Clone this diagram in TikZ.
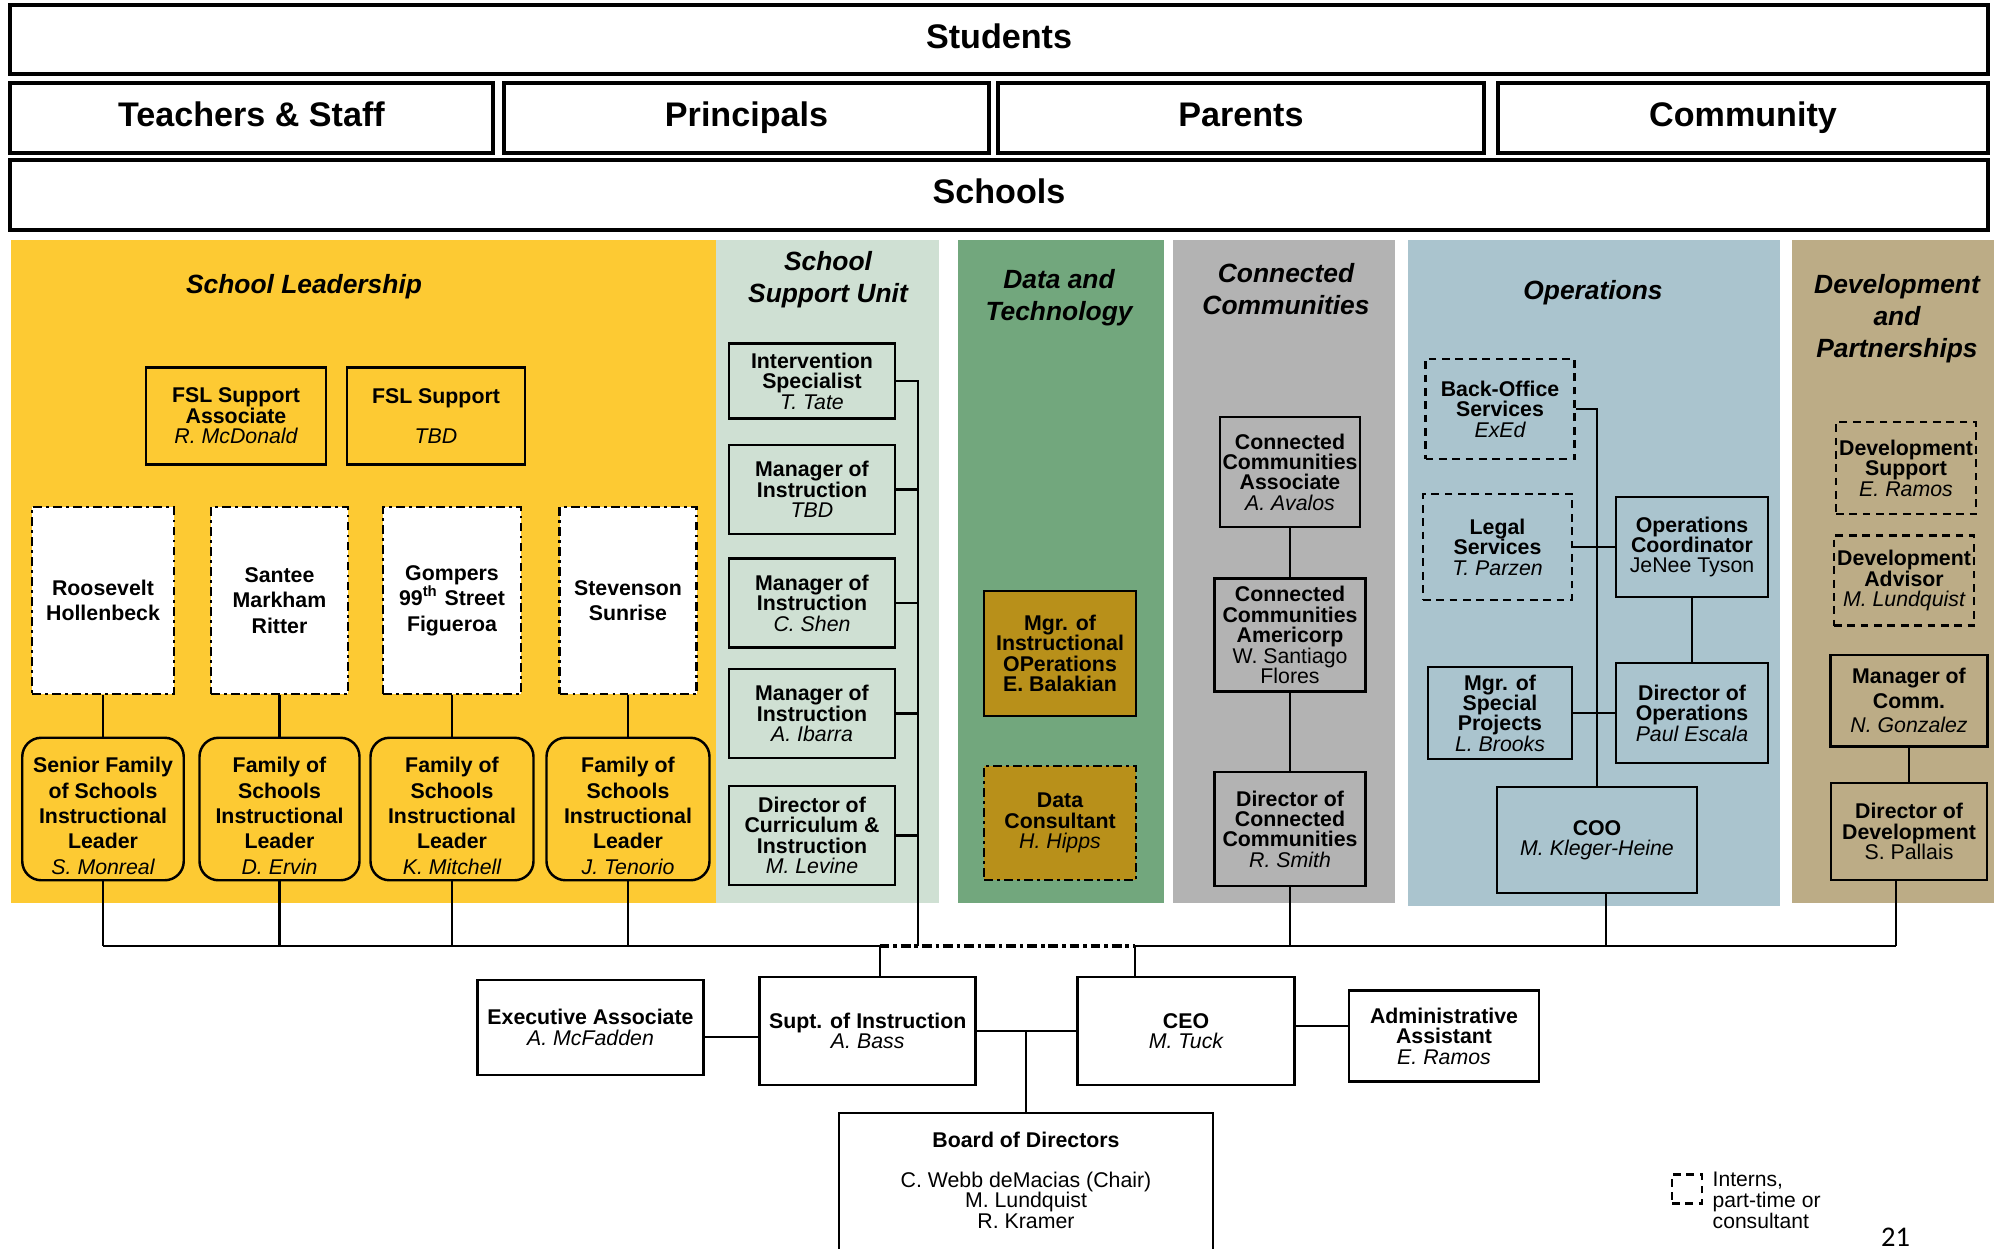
\documentclass[tikz,border=0pt]{standalone}
\usepackage{fontspec}
\setmainfont{Liberation Sans}
\newfontfamily\pagefont{Carlito}
\usepackage{xcolor}
\usepackage{tikz}

\definecolor{leadyellow}{RGB}{253,202,51}
\definecolor{supportgreen}{RGB}{207,224,211}
\definecolor{datagreen}{RGB}{114,167,125}
\definecolor{commgray}{RGB}{179,179,179}
\definecolor{opsblue}{RGB}{170,196,206}
\definecolor{devtan}{RGB}{188,172,134}
\definecolor{gold}{RGB}{184,144,26}

\newcommand{\orgfont}{\fontsize{6.06pt}{5.8pt}\selectfont}
\newcommand{\loosefont}{\fontsize{6.06pt}{7.2pt}\selectfont}
\newcommand{\headfont}{\fontsize{7.5pt}{9.05pt}\selectfont\bfseries\itshape}
\newcommand{\bandfont}{\fontsize{9.7pt}{11pt}\selectfont\bfseries}
\newcommand{\who}[1]{{\mdseries\itshape #1}}
\newcommand{\whoup}[1]{{\mdseries #1}}
\newcommand{\lift}{\rule{0pt}{8.3pt}}

\tikzset{
	sz/.style 2 args={minimum width=#1*0.01cm,minimum height=#2*0.01cm},
	unit/.style={draw,line width=0.7pt,align=center,inner sep=0pt,font=\orgfont\bfseries},
	temp/.style={dash pattern=on 2.2pt off 1.6pt},
	mixed/.style={dash pattern=on 2.5pt off 1.2pt on 0.8pt off 1.2pt},
	school/.style={unit,mixed,fill=white,font=\loosefont\bfseries},
	family/.style={unit,rounded corners=0.19cm,font=\loosefont\bfseries},
	band/.style={draw,line width=0.9pt,inner sep=0pt,text height=7pt,text depth=2pt,font=\bandfont},
	head/.style={align=center,inner sep=0pt,font=\headfont},
	link/.style={draw=black,line width=0.6pt}
}

\begin{document}
\begin{tikzpicture}[x=0.01cm,y=-0.01cm]
				\useasboundingbox (0,0) rectangle (1994,1248);
				\clip (0,0) rectangle (1994,1248);

				\node[band,sz={1978}{69}] (Stu) at (999,39.5) {Students};
				\node[band,sz={483}{70}] (TS) at (251.5,118) {Teachers \& Staff};
				\node[band,sz={485}{70}] (Pr) at (746.5,118) {Principals};
				\node[band,sz={486}{70}] (Pa) at (1241,118) {Parents};
				\node[band,sz={490}{70}] (Co) at (1743,118) {Community};
				\node[band,sz={1978}{70}] (Sch) at (999,195) {Schools};

				\fill[leadyellow] (11,240) rectangle (716,903);
				\fill[supportgreen] (716,240) rectangle (939,903);
				\fill[datagreen] (958,240) rectangle (1164,903);
				\fill[commgray] (1173,240) rectangle (1395,903);
				\fill[opsblue] (1408,240) rectangle (1780,906);
				\fill[devtan] (1792,240) rectangle (1994,903);

				\node[head] (hSL) at (304,287) {School Leadership};
				\node[head] (hSSU) at (828,280) {School\\Support Unit};
				\node[head] (hDT) at (1059,298) {Data and\\Technology};
				\node[head] (hCC) at (1286,289) {Connected\\Communities};
				\node[head] (hOps) at (1593,293) {Operations};
				\node[head] (hDev) at (1897,318.5) {Development\\and\\Partnerships};

				\node[unit,sz={180}{97}] (FA) at (236,416) {FSL Support\\Associate\\\who{R. McDonald}};
				\node[unit,sz={178}{97}] (FS) at (436,416) {FSL Support\\~\\\who{TBD}};

				\node[school,sz={142}{187}] (S1) at (103,600.5) {Roosevelt\\Hollenbeck};
				\node[school,sz={137}{187}] (S2) at (279.5,600.5) {Santee\\Markham\\Ritter};
				\node[school,sz={138}{187}] (S3) at (452,600.5) {Gompers\\99\textsuperscript{th} Street\\Figueroa};
				\node[school,sz={137}{187}] (S4) at (628,600.5) {Stevenson\\Sunrise};

				\node[family,sz={161.5}{142.5}] (F1) at (103,809) {\lift Senior Family\\of Schools\\Instructional\\Leader\\\who{S. Monreal}};
				\node[family,sz={160}{142.5}] (F2) at (279.5,809) {\lift Family of\\Schools\\Instructional\\Leader\\\who{D. Ervin}};
				\node[family,sz={163}{142.5}] (F3) at (452,809) {\lift Family of\\Schools\\Instructional\\Leader\\\who{K. Mitchell}};
				\node[family,sz={163}{142.5}] (F4) at (628,809) {\lift Family of\\Schools\\Instructional\\Leader\\\who{J. Tenorio}};

				\node[unit,sz={166}{75}] (U1) at (812,381) {Intervention\\Specialist\\\who{T. Tate}};
				\node[unit,sz={166}{89}] (U2) at (812,489.5) {Manager of\\Instruction\\\who{TBD}};
				\node[unit,sz={166}{89}] (U3) at (812,603) {Manager of\\Instruction\\\who{C. Shen}};
				\node[unit,sz={166}{89}] (U4) at (812,713.5) {Manager of\\Instruction\\\who{A. Ibarra}};
				\node[unit,sz={166}{99}] (U5) at (812,835.5) {Director of\\Curriculum \&\\Instruction\\\who{M. Levine}};

				\node[unit,fill=gold,sz={152}{125}] (D1) at (1060,653.5) {Mgr. of\\Instructional\\OPerations\\E. Balakian};
				\node[unit,mixed,fill=gold,sz={152}{114.5}] (D2) at (1060,823) {Data\\Consultant\\\who{H. Hipps}};

				\node[unit,sz={140}{109.5}] (C1) at (1290,472) {Connected\\Communities\\Associate\\\who{A. Avalos}};
				\node[unit,sz={151}{113}] (C2) at (1290,635) {Connected\\Communities\\Americorp\\\whoup{W. Santiago}\\\whoup{Flores}};
				\node[unit,sz={151}{114}] (C3) at (1290,829) {Director of\\Connected\\Communities\\\who{R. Smith}};

				\node[unit,temp,sz={149}{100.5}] (O1) at (1500,409) {Back-Office\\Services\\\who{ExEd}};
				\node[unit,temp,sz={149}{105.5}] (O2) at (1497.5,547) {Legal\\Services\\\who{T. Parzen}};
				\node[unit,sz={152}{100}] (O3) at (1692,547) {Operations\\Coordinator\\\whoup{JeNee Tyson}};
				\node[unit,sz={144}{92}] (O4) at (1500,713) {Mgr. of\\Special\\Projects\\\who{L. Brooks}};
				\node[unit,sz={152}{100}] (O5) at (1692,713) {Director of\\Operations\\\who{Paul Escala}};
				\node[unit,sz={200}{106}] (O6) at (1597,840) {COO\\\who{M. Kleger-Heine}};

				\node[unit,temp,sz={140}{92}] (V1) at (1906,468) {Development\\Support\\\who{E. Ramos}};
				\node[unit,temp,sz={140}{90}] (V2) at (1904,580.5) {Development\\Advisor\\\who{M. Lundquist}};
				\node[unit,sz={157}{91.6}] (V3) at (1909,700.7) {Manager of\\[1.2pt]Comm.\\[1.2pt]\who{N. Gonzalez}};
				\node[unit,sz={156}{97}] (V4) at (1909,831.5) {Director of\\Development\\\whoup{S. Pallais}};

				\node[unit,sz={226}{95}] (B1) at (590.5,1027.5) {Executive Associate\\\who{A. McFadden}};
				\node[unit,sz={216}{108}] (B2) at (867.7,1031) {Supt. of Instruction\\\who{A. Bass}};
				\node[unit,sz={217}{108}] (B3) at (1186,1031) {CEO\\\who{M. Tuck}};
				\node[unit,sz={190}{91}] (B4) at (1444,1036) {Administrative\\Assistant\\\who{E. Ramos}};
				\node[unit,sz={374}{180},anchor=north] (B5) at (1026,1112) {};
				\node[align=center,inner sep=0pt,font=\orgfont] (B5t) at (1026,1180) {\textbf{Board of Directors}\\[5.7pt]C. Webb deMacias (Chair)\\M. Lundquist\\R. Kramer};

				\node[draw,line width=0.7pt,temp,sz={30}{29}] (K) at (1687,1189) {};
				\node[anchor=west,align=left,inner sep=0pt,font=\fontsize{6pt}{6pt}\selectfont] (Kt) at (1712,1200.7) {Interns,\\part-time or\\consultant};
				\node[anchor=base,inner sep=0pt,font=\pagefont\fontsize{8.1pt}{9pt}\selectfont] (Pg) at (1895.5,1246) {21};

				\coordinate (bus) at (0,946);
				\coordinate (J1) at (879.6,946);
				\coordinate (J2) at (1135,946);
				\coordinate (J3) at (918,946);
				\coordinate (J4) at (1606,946);
				\coordinate (J5) at (1896,946);
				\coordinate (ea) at (0,1037);
				\coordinate (aa) at (0,1026);

				\begin{scope}[every edge/.style={link}]
				    \foreach \i in {1,...,4} {
				        \path (S\i) edge (F\i);
				        \draw[link] (F\i.south) -- (F\i.south |- bus);
				    }
				    \draw[link] (F1.south |- bus) -- (J1);
				    \draw[link,line width=0.9pt,dash pattern=on 2.8pt off 1.1pt on 1pt off 1.1pt] (J1) -- (J2);
				    \draw[link] (J2) -- (J5);

				    \draw[link] (U1.east) -- (U1.east -| J3) -- (J3);
				    \foreach \i in {2,...,5}
				        \draw[link] (U\i.east) -- (U\i.east -| J3);

				    \path (C1) edge (C2) (C2) edge (C3);
				    \draw[link] (C3.south) -- (C3.south |- bus);

				    \draw[link] (O1.east) -- (O1.east -| O6.north) -- (O6.north);
				    \path (O2) edge (O3) (O4) edge (O5) (O3) edge (O5);
				    \draw[link] (O6.south -| J4) -- (J4);

				    \path (V3) edge (V4);
				    \draw[link] (V4.south -| J5) -- (J5);

				    \draw[link] (B2.north -| J1) -- (J1);
				    \draw[link] (B3.north -| J2) -- (J2);
				    \draw[link] (B1.east |- ea) -- (B2.west |- ea);
				    \path (B2) edge (B3);
				    \draw[link] (B5.north) -- (B5.north |- B2);
				    \draw[link] (B3.east |- aa) -- (B4.west |- aa);
				\end{scope}
\end{tikzpicture}
\end{document}
